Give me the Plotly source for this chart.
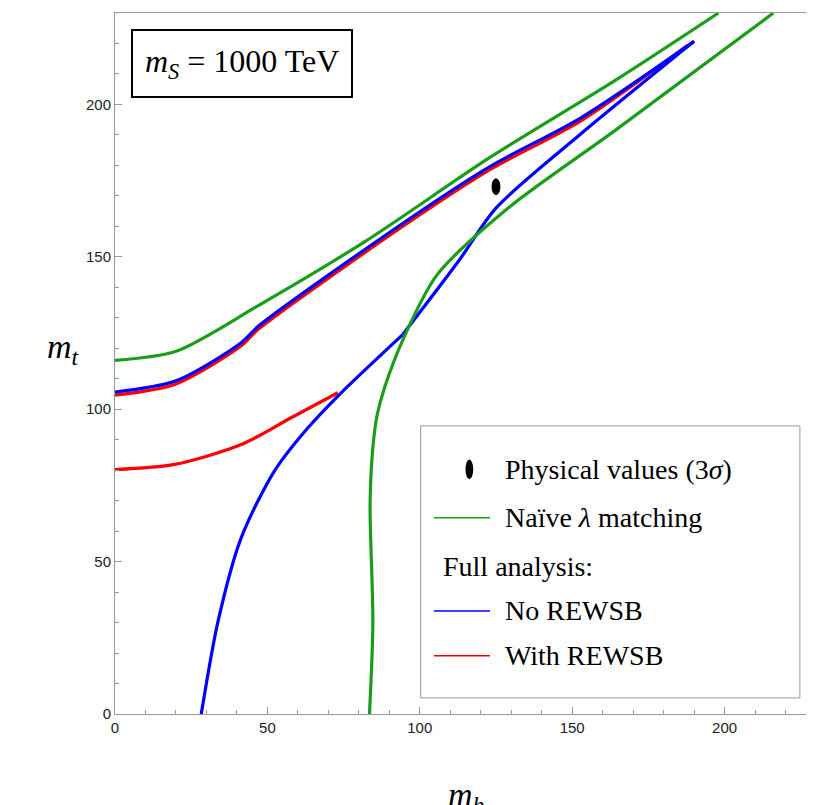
import plotly.graph_objects as go

# Naive lambda matching (green)
green_up_x = [0, 20, 47, 82, 123, 164, 198]
green_up_y = [116, 119, 134, 155, 182.6, 207.8, 230]
green_lo_x = [83.5, 84.6, 83.7, 84.6, 86, 88.4, 95, 105.6, 129, 164, 216]
green_lo_y = [0, 30, 68.7, 87.4, 98, 107, 124, 144, 166, 191.4, 230]
# Full analysis, no REWSB (blue)
blue_up_x = [0, 20, 41.4, 47, 94, 123, 153, 190]
blue_up_y = [105.6, 109.3, 121.8, 127.2, 160.7, 179.6, 195.7, 220.7]
blue_lo_x = [28.3, 33.8, 41.4, 52.3, 63.3, 74.2, 94.4]
blue_lo_y = [0, 30.4, 57.8, 79.7, 93.9, 105.4, 124.5]
blue_lo2_x = [94.4, 112.8, 125, 152.7, 190]
blue_lo2_y = [124.5, 148.7, 166, 190.2, 220.7]
# Full analysis, with REWSB (red)
red_up_x = [0, 20, 41.4, 47, 94, 123, 153, 188]
red_up_y = [104.6, 108.3, 120.8, 126.2, 159.7, 178.6, 194.7, 219.5]
red_lo_x = [0, 19.6, 41.4, 57.8, 73.1]
red_lo_y = [80.2, 81.9, 88.4, 97.2, 105.4]
# Physical values (3 sigma)
phys_mh, phys_mt = 125.0, 173.0
phys_dmh, phys_dmt = 1.3, 2.6

GREEN, BLUE, RED = "#1a9e1a", "#0000ff", "#ff0000"
fig = go.Figure()
def add(x, y, c, sm=0.8):
    fig.add_trace(go.Scatter(x=x, y=y, mode="lines", line=dict(color=c, width=3.2, shape="spline", smoothing=sm),
                             showlegend=False, hoverinfo="skip"))
add(red_up_x, red_up_y, RED)
add(red_lo_x, red_lo_y, RED)
add(blue_up_x, blue_up_y, BLUE)
add(blue_lo_x, blue_lo_y, BLUE)
add(blue_lo2_x, blue_lo2_y, BLUE)
add(green_up_x, green_up_y, GREEN)
add(green_lo_x, green_lo_y, GREEN)

fig.add_shape(type="circle", xref="x", yref="y", x0=phys_mh - phys_dmh, x1=phys_mh + phys_dmh,
              y0=phys_mt - phys_dmt, y1=phys_mt + phys_dmt, fillcolor="black", line=dict(color="black", width=1))

serif = "Liberation Serif"
fig.add_annotation(xref="paper", yref="paper", x=0.023, y=0.977, xanchor="left", yanchor="top",
                   text="<i>m<sub>S</sub></i> = 1000 TeV", showarrow=False,
                   font=dict(family=serif, size=32, color="black"),
                   bordercolor="black", borderwidth=2, borderpad=12, bgcolor="white")
fig.add_shape(type="rect", xref="paper", yref="paper", x0=0.436, x1=0.977, y0=0.023, y1=0.411,
              line=dict(color="#999", width=1), fillcolor="white", layer="above")
rows = [(0.349, "Physical values (3<i>σ</i>)", "dot"), (0.28, "Naïve <i>λ</i> matching", GREEN),
        (0.21, "Full analysis:", None), (0.147, "No REWSB", BLUE), (0.083, "With REWSB", RED)]
for yy, txt, kind in rows:
    xt = 0.553 if kind is not None else 0.465
    fig.add_annotation(xref="paper", yref="paper", x=xt, y=yy, xanchor="left", yanchor="middle",
                       text=txt, showarrow=False, font=dict(family=serif, size=28, color="black"))
    if kind == "dot":
        fig.add_shape(type="circle", xref="paper", yref="paper", x0=0.5, x1=0.511, y0=yy - 0.014, y1=yy + 0.014,
                      fillcolor="black", line=dict(color="black", width=0), layer="above")
    elif kind:
        fig.add_shape(type="line", xref="paper", yref="paper", x0=0.455, x1=0.535, y0=yy, y1=yy,
                      line=dict(color=kind, width=1.5), layer="above")

ax = dict(range=[0, 230], showgrid=False, zeroline=False, showline=True, mirror=True, linecolor="#999",
          ticks="inside", tickcolor="#999", ticklen=7, tickvals=[0, 50, 100, 150, 200], automargin=False,
          tickfont=dict(family="Liberation Sans", size=15, color="#222"),
          minor=dict(ticks="inside", ticklen=4, dtick=10, tickcolor="#999"))
fig.update_xaxes(**ax)
fig.update_yaxes(**ax)
fig.add_annotation(xref="paper", yref="paper", x=0.5, y=-0.085, yanchor="top", text="<i>m<sub>h</sub></i>",
                   showarrow=False, font=dict(family=serif, size=34, color="black"))
fig.add_annotation(xref="paper", yref="paper", x=-0.1, y=0.52, text="<i>m<sub>t</sub></i>", showarrow=False,
                   font=dict(family=serif, size=34, color="black"))
fig.update_layout(width=814, height=805, plot_bgcolor="white", paper_bgcolor="white",
                  margin=dict(l=107, r=6, t=5, b=99, pad=0))
fig.write_html("out.html")
